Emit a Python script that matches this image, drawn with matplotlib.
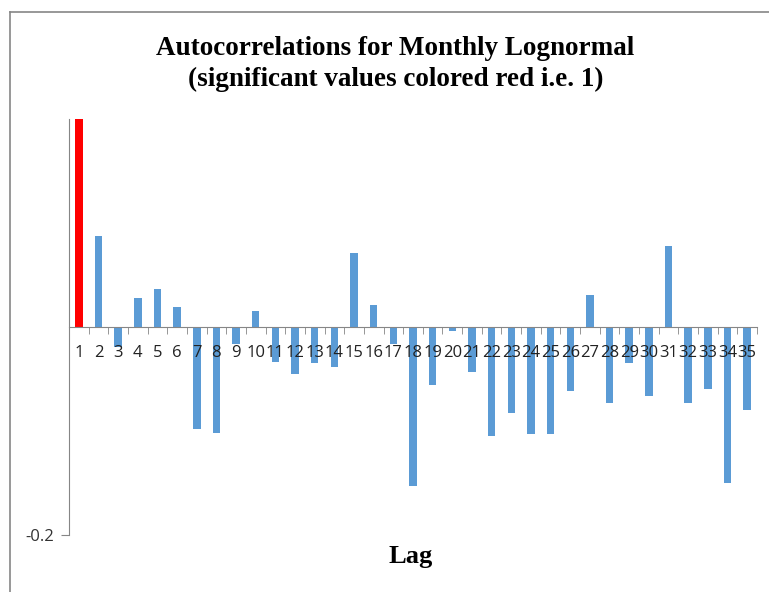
import numpy as np
import matplotlib.pyplot as plt
from matplotlib.lines import Line2D

lags = list(range(1, 36))
acf = [0.25, 0.0875, -0.019, 0.028, 0.0366, 0.0194, -0.098, -0.102, -0.016, 0.0155,
       -0.034, -0.045, -0.035, -0.038, 0.071, 0.021, -0.016, -0.153, -0.056, -0.0037,
       -0.043, -0.105, -0.083, -0.103, -0.103, -0.062, 0.031, -0.073, -0.035, -0.066,
       0.078, -0.073, -0.060, -0.150, -0.080]
significant = [1]

colors = ['#FF0000' if l in significant else '#5B9BD5' for l in lags]
grey = '#868686'

fig = plt.figure(figsize=(7.69, 5.92), dpi=100)
ax = fig.add_axes([69 / 769, 1 - 535 / 592, 688 / 769, 416 / 592])

idx = np.arange(len(lags))
ax.bar(idx, acf, width=0.38, color=colors)

ax.set_xlim(-0.5, len(lags) - 0.5)
ax.set_ylim(-0.2, 0.2)

for s in ['top', 'right']:
    ax.spines[s].set_visible(False)
ax.spines['bottom'].set_position(('data', 0))
ax.spines['bottom'].set_color(grey)
ax.spines['left'].set_color(grey)

ax.set_xticks(idx)
ax.set_xticklabels([str(l) for l in lags], fontsize=12, family='Open Sans', color='#222222')
ax.tick_params(axis='x', which='major', length=0, pad=13)
ax.set_xticks(np.arange(len(lags) + 1) - 0.5, minor=True)
ax.tick_params(axis='x', which='minor', length=5, color=grey, direction='out')

ax.set_yticks([-0.2])
ax.set_yticklabels(['-0.2'], fontsize=12, family='Open Sans', color='#333333')
ax.tick_params(axis='y', length=6, color=grey, pad=5)

fig.text(0.514, 0.892, 'Autocorrelations for Monthly Lognormal\n(significant values colored red i.e. 1)',
         ha='center', va='center', fontsize=19.5, fontweight='bold',
         family='Liberation Serif', linespacing=1.3)
fig.text(411 / 769, 1 - 556 / 592, 'Lag', ha='center', va='center',
         fontsize=19, fontweight='bold', family='Liberation Serif')

# outer chart frame
fig.add_artist(Line2D([9.5 / 769, 9.5 / 769], [0, 1 - 11.5 / 592], color=grey, lw=1.2))
fig.add_artist(Line2D([9.5 / 769, 1], [1 - 11.5 / 592, 1 - 11.5 / 592], color=grey, lw=1.2))

plt.savefig('out.png', dpi=100)
